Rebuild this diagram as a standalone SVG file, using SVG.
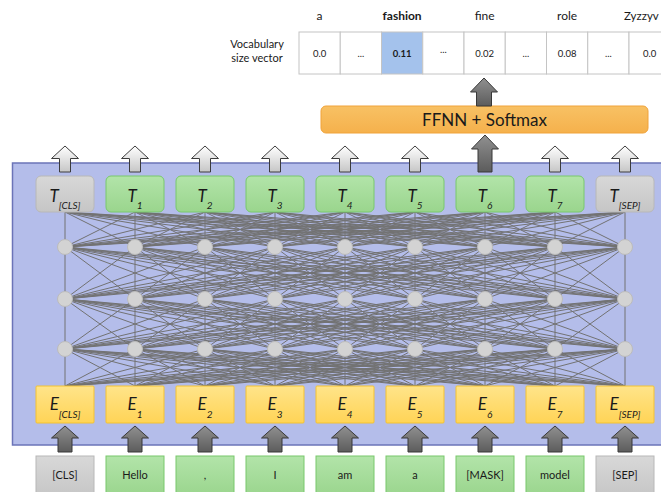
<svg xmlns="http://www.w3.org/2000/svg" width="661" height="492" viewBox="0 0 661 492">
<style>
.txt{font-family:Lato,'Liberation Sans',sans-serif;fill:#1a1a1a}
.sym{font-style:italic;font-size:17px;text-anchor:middle}
.sub{font-size:10px}
.tok{font-size:11px;text-anchor:middle}
.val{font-size:9.5px;text-anchor:middle}
.word{font-size:12px;text-anchor:middle}
.bg{fill:url(#gGreen);stroke:#78c86c;stroke-width:1}
.bgr{fill:url(#gGray);stroke:#b8b8b8;stroke-width:1}
.by{fill:url(#gYellow);stroke:#f3c232;stroke-width:1}
.node{fill:#d3d3d3;stroke:#bcbcbc;stroke-width:1}
.mesh{fill:none;stroke:#727272;stroke-width:1}
.lt{fill:url(#gLight);stroke:#3c3c3c;stroke-width:1}
.dk{fill:url(#gDark);stroke:#383838;stroke-width:1}
.cell{fill:#ffffff;stroke:#c4c4c4;stroke-width:1}
</style>
<defs>
<linearGradient id="gLight" x1="0" y1="0" x2="0" y2="1"><stop offset="0" stop-color="#ffffff"/><stop offset="1" stop-color="#c6c6c6"/></linearGradient>
<linearGradient id="gDark" x1="0" y1="0" x2="0" y2="1"><stop offset="0" stop-color="#909090"/><stop offset="1" stop-color="#5c5c5c"/></linearGradient>
<linearGradient id="gGreen" x1="0" y1="0" x2="0" y2="1"><stop offset="0" stop-color="#b2e4a9"/><stop offset="1" stop-color="#9ad58d"/></linearGradient>
<linearGradient id="gGray" x1="0" y1="0" x2="0" y2="1"><stop offset="0" stop-color="#d8d8d8"/><stop offset="1" stop-color="#c6c6c6"/></linearGradient>
<linearGradient id="gYellow" x1="0" y1="0" x2="0" y2="1"><stop offset="0" stop-color="#ffe48a"/><stop offset="1" stop-color="#ffd456"/></linearGradient>
<linearGradient id="gOrange" x1="0" y1="0" x2="0" y2="1"><stop offset="0" stop-color="#f8c164"/><stop offset="1" stop-color="#f5b14c"/></linearGradient>
<path id="arLight" d="M0 0L13.5 12.5L5.5 12.5L5.5 26L-5.5 26L-5.5 12.5L-13.5 12.5Z"/>
<path id="arIn" d="M0 0L13.5 12L7 12L7 26L-7 26L-7 12L-13.5 12Z"/>
</defs>
<rect width="661" height="492" fill="#ffffff"/>

<!-- panel -->
<rect id="encoder-panel" x="12.5" y="163" width="660" height="282" fill="#b4bdea" stroke="#6b74b8" stroke-width="1.5"/>

<!-- vocabulary vector -->
<g id="vocab">
<text class="txt" x="257" y="48" font-size="11" text-anchor="middle">Vocabulary</text>
<text class="txt" x="257" y="62" font-size="11" text-anchor="middle">size vector</text>
<rect class="cell" x="299" y="32" width="41.25" height="42"/>
<rect class="cell" x="340.25" y="32" width="41.25" height="42"/>
<rect class="cell" x="381.5" y="32" width="41.25" height="42" style="fill:#a4c2ec"/>
<rect class="cell" x="422.75" y="32" width="41.25" height="42"/>
<rect class="cell" x="464" y="32" width="41.25" height="42"/>
<rect class="cell" x="505.25" y="32" width="41.25" height="42"/>
<rect class="cell" x="546.5" y="32" width="41.25" height="42"/>
<rect class="cell" x="587.75" y="32" width="41.25" height="42"/>
<rect class="cell" x="629" y="32" width="41.25" height="42"/>
<text class="txt val" x="319.6" y="57">0.0</text>
<text class="txt val" x="360.9" y="57">...</text>
<text class="txt val" x="402.1" y="57" font-weight="bold">0.11</text>
<text class="txt val" x="443.4" y="53">...</text>
<text class="txt val" x="484.6" y="57">0.02</text>
<text class="txt val" x="525.9" y="57">...</text>
<text class="txt val" x="567.1" y="57">0.08</text>
<text class="txt val" x="608.4" y="57">...</text>
<text class="txt val" x="649.6" y="57">0.0</text>
<text class="txt word" x="319.6" y="20">a</text>
<text class="txt word" x="402.1" y="20" font-weight="bold">fashion</text>
<text class="txt word" x="484.6" y="20">fine</text>
<text class="txt word" x="567.1" y="20">role</text>
<text class="txt" x="624" y="20" font-size="11.5">Zyzzyv</text>
</g>

<!-- FFNN -->
<g id="ffnn">
<rect x="321" y="106" width="327" height="27" rx="5" fill="url(#gOrange)" stroke="#f0a33a" stroke-width="1"/>
<text class="txt" x="484.5" y="126" font-size="17" text-anchor="middle">FFNN + Softmax</text>
</g>

<!-- connectors -->
<g id="connectors">
<path class="mesh" d="M65 212L65 247M65 212L135 247M65 212L205 247M65 212L275 247M65 212L345 247M65 212L415 247M65 212L485 247M65 212L555 247M65 212L625 247
M135 212L65 247M135 212L135 247M135 212L205 247M135 212L275 247M135 212L345 247M135 212L415 247M135 212L485 247M135 212L555 247M135 212L625 247
M205 212L65 247M205 212L135 247M205 212L205 247M205 212L275 247M205 212L345 247M205 212L415 247M205 212L485 247M205 212L555 247M205 212L625 247
M275 212L65 247M275 212L135 247M275 212L205 247M275 212L275 247M275 212L345 247M275 212L415 247M275 212L485 247M275 212L555 247M275 212L625 247
M345 212L65 247M345 212L135 247M345 212L205 247M345 212L275 247M345 212L345 247M345 212L415 247M345 212L485 247M345 212L555 247M345 212L625 247
M415 212L65 247M415 212L135 247M415 212L205 247M415 212L275 247M415 212L345 247M415 212L415 247M415 212L485 247M415 212L555 247M415 212L625 247
M485 212L65 247M485 212L135 247M485 212L205 247M485 212L275 247M485 212L345 247M485 212L415 247M485 212L485 247M485 212L555 247M485 212L625 247
M555 212L65 247M555 212L135 247M555 212L205 247M555 212L275 247M555 212L345 247M555 212L415 247M555 212L485 247M555 212L555 247M555 212L625 247
M625 212L65 247M625 212L135 247M625 212L205 247M625 212L275 247M625 212L345 247M625 212L415 247M625 212L485 247M625 212L555 247M625 212L625 247"/>
<path class="mesh" d="M65 247L65 299M65 247L135 299M65 247L205 299M65 247L275 299M65 247L345 299M65 247L415 299M65 247L485 299M65 247L555 299M65 247L625 299
M135 247L65 299M135 247L135 299M135 247L205 299M135 247L275 299M135 247L345 299M135 247L415 299M135 247L485 299M135 247L555 299M135 247L625 299
M205 247L65 299M205 247L135 299M205 247L205 299M205 247L275 299M205 247L345 299M205 247L415 299M205 247L485 299M205 247L555 299M205 247L625 299
M275 247L65 299M275 247L135 299M275 247L205 299M275 247L275 299M275 247L345 299M275 247L415 299M275 247L485 299M275 247L555 299M275 247L625 299
M345 247L65 299M345 247L135 299M345 247L205 299M345 247L275 299M345 247L345 299M345 247L415 299M345 247L485 299M345 247L555 299M345 247L625 299
M415 247L65 299M415 247L135 299M415 247L205 299M415 247L275 299M415 247L345 299M415 247L415 299M415 247L485 299M415 247L555 299M415 247L625 299
M485 247L65 299M485 247L135 299M485 247L205 299M485 247L275 299M485 247L345 299M485 247L415 299M485 247L485 299M485 247L555 299M485 247L625 299
M555 247L65 299M555 247L135 299M555 247L205 299M555 247L275 299M555 247L345 299M555 247L415 299M555 247L485 299M555 247L555 299M555 247L625 299
M625 247L65 299M625 247L135 299M625 247L205 299M625 247L275 299M625 247L345 299M625 247L415 299M625 247L485 299M625 247L555 299M625 247L625 299"/>
<path class="mesh" d="M65 299L65 349M65 299L135 349M65 299L205 349M65 299L275 349M65 299L345 349M65 299L415 349M65 299L485 349M65 299L555 349M65 299L625 349
M135 299L65 349M135 299L135 349M135 299L205 349M135 299L275 349M135 299L345 349M135 299L415 349M135 299L485 349M135 299L555 349M135 299L625 349
M205 299L65 349M205 299L135 349M205 299L205 349M205 299L275 349M205 299L345 349M205 299L415 349M205 299L485 349M205 299L555 349M205 299L625 349
M275 299L65 349M275 299L135 349M275 299L205 349M275 299L275 349M275 299L345 349M275 299L415 349M275 299L485 349M275 299L555 349M275 299L625 349
M345 299L65 349M345 299L135 349M345 299L205 349M345 299L275 349M345 299L345 349M345 299L415 349M345 299L485 349M345 299L555 349M345 299L625 349
M415 299L65 349M415 299L135 349M415 299L205 349M415 299L275 349M415 299L345 349M415 299L415 349M415 299L485 349M415 299L555 349M415 299L625 349
M485 299L65 349M485 299L135 349M485 299L205 349M485 299L275 349M485 299L345 349M485 299L415 349M485 299L485 349M485 299L555 349M485 299L625 349
M555 299L65 349M555 299L135 349M555 299L205 349M555 299L275 349M555 299L345 349M555 299L415 349M555 299L485 349M555 299L555 349M555 299L625 349
M625 299L65 349M625 299L135 349M625 299L205 349M625 299L275 349M625 299L345 349M625 299L415 349M625 299L485 349M625 299L555 349M625 299L625 349"/>
<path class="mesh" d="M65 349L65 386M65 349L135 386M65 349L205 386M65 349L275 386M65 349L345 386M65 349L415 386M65 349L485 386M65 349L555 386M65 349L625 386
M135 349L65 386M135 349L135 386M135 349L205 386M135 349L275 386M135 349L345 386M135 349L415 386M135 349L485 386M135 349L555 386M135 349L625 386
M205 349L65 386M205 349L135 386M205 349L205 386M205 349L275 386M205 349L345 386M205 349L415 386M205 349L485 386M205 349L555 386M205 349L625 386
M275 349L65 386M275 349L135 386M275 349L205 386M275 349L275 386M275 349L345 386M275 349L415 386M275 349L485 386M275 349L555 386M275 349L625 386
M345 349L65 386M345 349L135 386M345 349L205 386M345 349L275 386M345 349L345 386M345 349L415 386M345 349L485 386M345 349L555 386M345 349L625 386
M415 349L65 386M415 349L135 386M415 349L205 386M415 349L275 386M415 349L345 386M415 349L415 386M415 349L485 386M415 349L555 386M415 349L625 386
M485 349L65 386M485 349L135 386M485 349L205 386M485 349L275 386M485 349L345 386M485 349L415 386M485 349L485 386M485 349L555 386M485 349L625 386
M555 349L65 386M555 349L135 386M555 349L205 386M555 349L275 386M555 349L345 386M555 349L415 386M555 349L485 386M555 349L555 386M555 349L625 386
M625 349L65 386M625 349L135 386M625 349L205 386M625 349L275 386M625 349L345 386M625 349L415 386M625 349L485 386M625 349L555 386M625 349L625 386"/>
<!-- block arrows -->
<use href="#arLight" class="lt" x="65" y="146"/>
<use href="#arLight" class="lt" x="135" y="146"/>
<use href="#arLight" class="lt" x="205" y="146"/>
<use href="#arLight" class="lt" x="275" y="146"/>
<use href="#arLight" class="lt" x="345" y="146"/>
<use href="#arLight" class="lt" x="415" y="146"/>
<use href="#arLight" class="lt" x="555" y="146"/>
<use href="#arLight" class="lt" x="625" y="146"/>
<path class="dk" d="M485 135L498.5 149L492 149L492 172L478 172L478 149L471.5 149Z"/>
<path class="dk" d="M484 78L497.5 92L491.5 92L491.5 106L476.5 106L476.5 92L470.5 92Z"/>
<use href="#arIn" class="dk" x="65" y="426"/>
<use href="#arIn" class="dk" x="135" y="426"/>
<use href="#arIn" class="dk" x="205" y="426"/>
<use href="#arIn" class="dk" x="275" y="426"/>
<use href="#arIn" class="dk" x="345" y="426"/>
<use href="#arIn" class="dk" x="415" y="426"/>
<use href="#arIn" class="dk" x="485" y="426"/>
<use href="#arIn" class="dk" x="555" y="426"/>
<use href="#arIn" class="dk" x="625" y="426"/>
</g>

<!-- hidden nodes -->
<g id="h1-1"><circle class="node" cx="65" cy="247" r="7.5"/></g>
<g id="h1-2"><circle class="node" cx="135" cy="247" r="7.5"/></g>
<g id="h1-3"><circle class="node" cx="205" cy="247" r="7.5"/></g>
<g id="h1-4"><circle class="node" cx="275" cy="247" r="7.5"/></g>
<g id="h1-5"><circle class="node" cx="345" cy="247" r="7.5"/></g>
<g id="h1-6"><circle class="node" cx="415" cy="247" r="7.5"/></g>
<g id="h1-7"><circle class="node" cx="485" cy="247" r="7.5"/></g>
<g id="h1-8"><circle class="node" cx="555" cy="247" r="7.5"/></g>
<g id="h1-9"><circle class="node" cx="625" cy="247" r="7.5"/></g>
<g id="h2-1"><circle class="node" cx="65" cy="299" r="7.5"/></g>
<g id="h2-2"><circle class="node" cx="135" cy="299" r="7.5"/></g>
<g id="h2-3"><circle class="node" cx="205" cy="299" r="7.5"/></g>
<g id="h2-4"><circle class="node" cx="275" cy="299" r="7.5"/></g>
<g id="h2-5"><circle class="node" cx="345" cy="299" r="7.5"/></g>
<g id="h2-6"><circle class="node" cx="415" cy="299" r="7.5"/></g>
<g id="h2-7"><circle class="node" cx="485" cy="299" r="7.5"/></g>
<g id="h2-8"><circle class="node" cx="555" cy="299" r="7.5"/></g>
<g id="h2-9"><circle class="node" cx="625" cy="299" r="7.5"/></g>
<g id="h3-1"><circle class="node" cx="65" cy="349" r="7.5"/></g>
<g id="h3-2"><circle class="node" cx="135" cy="349" r="7.5"/></g>
<g id="h3-3"><circle class="node" cx="205" cy="349" r="7.5"/></g>
<g id="h3-4"><circle class="node" cx="275" cy="349" r="7.5"/></g>
<g id="h3-5"><circle class="node" cx="345" cy="349" r="7.5"/></g>
<g id="h3-6"><circle class="node" cx="415" cy="349" r="7.5"/></g>
<g id="h3-7"><circle class="node" cx="485" cy="349" r="7.5"/></g>
<g id="h3-8"><circle class="node" cx="555" cy="349" r="7.5"/></g>
<g id="h3-9"><circle class="node" cx="625" cy="349" r="7.5"/></g>

<!-- T outputs -->
<g id="t-cls"><rect class="bgr" x="36" y="176" width="58" height="36" rx="5"/><text class="txt sym" x="65" y="202">T<tspan class="sub" dy="7">[CLS]</tspan></text></g>
<g id="t1"><rect class="bg" x="106" y="176" width="58" height="36" rx="5"/><text class="txt sym" x="135" y="202">T<tspan class="sub" dy="7">1</tspan></text></g>
<g id="t2"><rect class="bg" x="176" y="176" width="58" height="36" rx="5"/><text class="txt sym" x="205" y="202">T<tspan class="sub" dy="7">2</tspan></text></g>
<g id="t3"><rect class="bg" x="246" y="176" width="58" height="36" rx="5"/><text class="txt sym" x="275" y="202">T<tspan class="sub" dy="7">3</tspan></text></g>
<g id="t4"><rect class="bg" x="316" y="176" width="58" height="36" rx="5"/><text class="txt sym" x="345" y="202">T<tspan class="sub" dy="7">4</tspan></text></g>
<g id="t5"><rect class="bg" x="386" y="176" width="58" height="36" rx="5"/><text class="txt sym" x="415" y="202">T<tspan class="sub" dy="7">5</tspan></text></g>
<g id="t6"><rect class="bg" x="456" y="176" width="58" height="36" rx="5"/><text class="txt sym" x="485" y="202">T<tspan class="sub" dy="7">6</tspan></text></g>
<g id="t7"><rect class="bg" x="526" y="176" width="58" height="36" rx="5"/><text class="txt sym" x="555" y="202">T<tspan class="sub" dy="7">7</tspan></text></g>
<g id="t-sep"><rect class="bgr" x="596" y="176" width="58" height="36" rx="5"/><text class="txt sym" x="625" y="202">T<tspan class="sub" dy="7">[SEP]</tspan></text></g>

<!-- E embeddings -->
<g id="e-cls"><rect class="by" x="36" y="386" width="58" height="37" rx="1"/><text class="txt sym" x="65" y="410">E<tspan class="sub" dy="7.5">[CLS]</tspan></text></g>
<g id="e1"><rect class="by" x="106" y="386" width="58" height="37" rx="1"/><text class="txt sym" x="135" y="410">E<tspan class="sub" dy="7.5">1</tspan></text></g>
<g id="e2"><rect class="by" x="176" y="386" width="58" height="37" rx="1"/><text class="txt sym" x="205" y="410">E<tspan class="sub" dy="7.5">2</tspan></text></g>
<g id="e3"><rect class="by" x="246" y="386" width="58" height="37" rx="1"/><text class="txt sym" x="275" y="410">E<tspan class="sub" dy="7.5">3</tspan></text></g>
<g id="e4"><rect class="by" x="316" y="386" width="58" height="37" rx="1"/><text class="txt sym" x="345" y="410">E<tspan class="sub" dy="7.5">4</tspan></text></g>
<g id="e5"><rect class="by" x="386" y="386" width="58" height="37" rx="1"/><text class="txt sym" x="415" y="410">E<tspan class="sub" dy="7.5">5</tspan></text></g>
<g id="e6"><rect class="by" x="456" y="386" width="58" height="37" rx="1"/><text class="txt sym" x="485" y="410">E<tspan class="sub" dy="7.5">6</tspan></text></g>
<g id="e7"><rect class="by" x="526" y="386" width="58" height="37" rx="1"/><text class="txt sym" x="555" y="410">E<tspan class="sub" dy="7.5">7</tspan></text></g>
<g id="e-sep"><rect class="by" x="596" y="386" width="58" height="37" rx="1"/><text class="txt sym" x="625" y="410">E<tspan class="sub" dy="7.5">[SEP]</tspan></text></g>

<!-- input tokens -->
<g id="tok-cls"><rect class="bgr" x="36" y="456" width="58" height="40"/><text class="txt tok" x="65" y="479">[CLS]</text></g>
<g id="tok-hello"><rect class="bg" x="106" y="456" width="58" height="40"/><text class="txt tok" x="135" y="479">Hello</text></g>
<g id="tok-comma"><rect class="bg" x="176" y="456" width="58" height="40"/><text class="txt tok" x="205" y="479">,</text></g>
<g id="tok-i"><rect class="bg" x="246" y="456" width="58" height="40"/><text class="txt tok" x="275" y="479">I</text></g>
<g id="tok-am"><rect class="bg" x="316" y="456" width="58" height="40"/><text class="txt tok" x="345" y="479">am</text></g>
<g id="tok-a"><rect class="bg" x="386" y="456" width="58" height="40"/><text class="txt tok" x="415" y="479">a</text></g>
<g id="tok-mask"><rect class="bg" x="456" y="456" width="58" height="40"/><text class="txt tok" x="485" y="479">[MASK]</text></g>
<g id="tok-model"><rect class="bg" x="526" y="456" width="58" height="40"/><text class="txt tok" x="555" y="479">model</text></g>
<g id="tok-sep"><rect class="bgr" x="596" y="456" width="58" height="40"/><text class="txt tok" x="625" y="479">[SEP]</text></g>
</svg>
